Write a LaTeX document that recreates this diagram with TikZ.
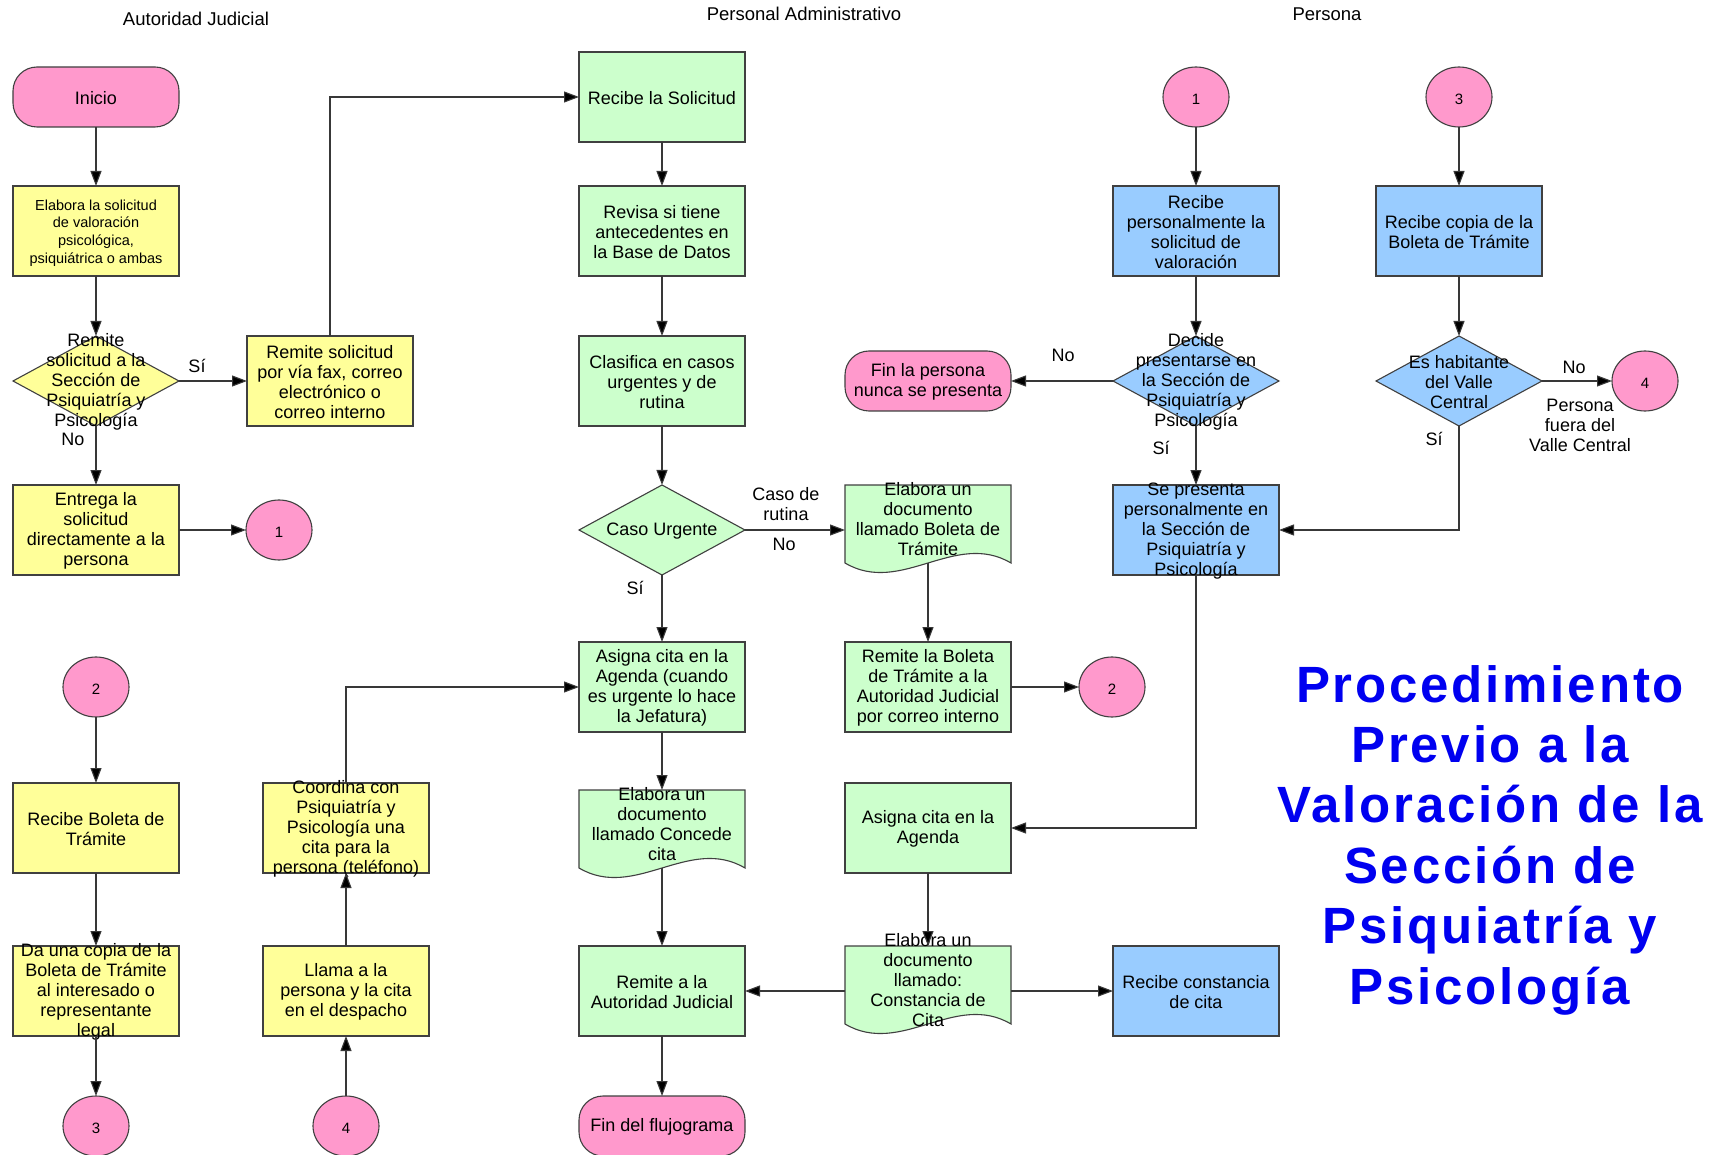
\documentclass[tikz,border=0pt]{standalone}
\usepackage{fontspec}
\setmainfont{Liberation Sans}
\usetikzlibrary{shapes.geometric,arrows.meta,calc}
\definecolor{cpink}{HTML}{FF99CC}
\definecolor{cyel}{HTML}{FFFF99}
\definecolor{cgreen}{HTML}{CCFFCC}
\definecolor{cblue}{HTML}{99CCFF}
\definecolor{edgec}{HTML}{404040}
\definecolor{linec}{HTML}{383838}
\definecolor{titleblue}{HTML}{0000F0}
\newcommand\tx[2][0pt]{\raisebox{\dimexpr #1-5.5pt\relax}[0pt][0pt]{\makebox[0pt]{\parbox[c]{240pt}{\centering #2}}}}
\newcommand\DocShape[3]{\path[draw=edgec,line width=1.1pt,fill=#3] ($(#1,#2)+(-83,-45)$) -- ($(#1,#2)+(83,-45)$) -- ($(#1,#2)+(83,33)$) .. controls ($(#1,#2)+(27,0)$) and ($(#1,#2)+(-27,66)$) .. ($(#1,#2)+(-83,33)$) -- cycle;}
\tikzset{
  every node/.style={inner sep=0pt,outer sep=0pt},
  shp/.style={draw=edgec,line width=1.1pt,font=\fontsize{18}{20}\selectfont},
  procbox/.style={shp,rectangle,minimum width=166pt,minimum height=90pt},
  ybox/.style={procbox,fill=cyel},
  gbox/.style={procbox,fill=cgreen},
  bbox/.style={procbox,fill=cblue},
  decis/.style={shp,diamond,aspect=1.84,minimum width=166pt,minimum height=90pt},
  term/.style={shp,rectangle,rounded corners=24pt,minimum width=166pt,minimum height=60pt,fill=cpink},
  circ/.style={shp,ellipse,minimum width=66pt,minimum height=60pt,fill=cpink,font=\fontsize{15}{17}\selectfont},
  docn/.style={rectangle,minimum width=166pt,minimum height=90pt,font=\fontsize{18}{20}\selectfont},
  conn/.style={draw=linec,line width=1.1pt,-{Triangle[length=15pt,width=11pt,fill=black]}},
  lab/.style={font=\fontsize{18}{20}\selectfont,align=center},
  hdr/.style={font=\fontsize{18.5}{20}\selectfont},
}
\begin{document}
\begin{tikzpicture}[x=1pt,y=-1pt]
\fill[white] (0,0) rectangle (1711,1155);
\useasboundingbox (0,0) rectangle (1711,1155);

% headers
\node[hdr] (h1) at (196,19) {Autoridad Judicial};
\node[hdr] (h2) at (804,14) {Personal Administrativo};
\node[hdr] (h3) at (1327,14) {Persona};

% Column A
\node[term] (ini) at (96,97) {\tx{Inicio}};
\node[ybox,font=\fontsize{14.5}{17.7}\selectfont] (elab) at (96,231) {\tx{Elabora la solicitud\\de valoración\\psicológica,\\psiquiátrica o ambas}};
\node[decis,fill=cyel] (d1) at (96,381) {\tx{Remite\\solicitud a la\\Sección de\\Psiquiatría y\\Psicología}};
\node[ybox] (ent) at (96,530) {\tx{Entrega la\\solicitud\\directamente a la\\persona}};
\node[circ] (c2a) at (96,687) {\tx{2}};
\node[ybox] (rbol) at (96,828) {\tx{Recibe Boleta de\\Trámite}};
\node[ybox] (dcop) at (96,991) {\tx{Da una copia de la\\Boleta de Trámite\\al interesado o\\representante\\legal}};
\node[circ] (c3a) at (96,1126) {\tx{3}};

% Column B
\node[ybox] (rsol) at (330,381) {\tx{Remite solicitud\\por vía fax, correo\\electrónico o\\correo interno}};
\node[circ] (c1a) at (279,530) {\tx{1}};
\node[ybox] (coord) at (346,828) {\tx{Coordina con\\Psiquiatría y\\Psicología una\\cita para la\\persona (teléfono)}};
\node[ybox] (llama) at (346,991) {\tx{Llama a la\\persona y la cita\\en el despacho}};
\node[circ] (c4a) at (346,1126) {\tx{4}};

% Column C
\node[gbox] (rls) at (662,97) {\tx{Recibe la Solicitud}};
\node[gbox] (rev) at (662,231) {\tx{Revisa si tiene\\antecedentes en\\la Base de Datos}};
\node[gbox] (clas) at (662,381) {\tx{Clasifica en casos\\urgentes y de\\rutina}};
\node[decis,fill=cgreen] (durg) at (662,530) {\tx{Caso Urgente}};
\node[gbox] (asg) at (662,687) {\tx{Asigna cita en la\\Agenda (cuando\\es urgente lo hace\\la Jefatura)}};
\DocShape{662}{835}{cgreen}
\node[docn] (docC) at (662,835) {\tx[12pt]{Elabora un\\documento\\llamado Concede\\cita}};
\node[gbox] (remAJ) at (662,991) {\tx{Remite a la\\Autoridad Judicial}};
\node[term] (fin) at (662,1126) {\tx{Fin del flujograma}};

% Column D
\node[term] (finp) at (928,381) {\tx{Fin la persona\\nunca se presenta}};
\DocShape{928}{530}{cgreen}
\node[docn] (docB) at (928,530) {\tx[12pt]{Elabora un\\documento\\llamado Boleta de\\Trámite}};
\node[gbox] (rbol2) at (928,687) {\tx{Remite la Boleta\\de Trámite a la\\Autoridad Judicial\\por correo interno}};
\node[circ] (c2b) at (1112,687) {\tx{2}};
\node[gbox] (asga) at (928,828) {\tx{Asigna cita en la\\Agenda}};
\DocShape{928}{991}{cgreen}
\node[docn] (docK) at (928,991) {\tx[12pt]{Elabora un\\documento\\llamado:\\Constancia de\\Cita}};

% Column E
\node[circ] (c1b) at (1196,97) {\tx{1}};
\node[bbox] (rper) at (1196,231) {\tx{Recibe\\personalmente la\\solicitud de\\valoración}};
\node[decis,fill=cblue] (ddec) at (1196,381) {\tx{Decide\\presentarse en\\la Sección de\\Psiquiatría y\\Psicología}};
\node[bbox] (sep) at (1196,530) {\tx{Se presenta\\personalmente en\\la Sección de\\Psiquiatría y\\Psicología}};
\node[bbox] (rcon) at (1196,991) {\tx{Recibe constancia\\de cita}};

% Column F
\node[circ] (c3b) at (1459,97) {\tx{3}};
\node[bbox] (rcop) at (1459,231) {\tx{Recibe copia de la\\Boleta de Trámite}};
\node[decis,fill=cblue] (dhab) at (1459,381) {\tx{Es habitante\\del Valle\\Central}};
\node[circ] (c4b) at (1645,381) {\tx{4}};

% Title
\node[text=titleblue,align=center,font=\fontsize{51}{60.4}\selectfont\bfseries\addfontfeature{LetterSpace=5.5}] (title) at (1490,840) {Procedimiento\\Previo a la\\Valoración de la\\Sección de\\Psiquiatría y\\Psicología};

% connectors
\draw[conn] (ini) -- (elab);
\draw[conn] (elab) -- (d1);
\draw[conn] (d1) -- (rsol);
\draw[conn] (d1) -- (ent);
\draw[conn] (ent) -- (c1a);
\draw[conn] (rsol.north) |- (rls.west);
\draw[conn] (rls) -- (rev);
\draw[conn] (rev) -- (clas);
\draw[conn] (clas) -- (durg);
\draw[conn] (durg) -- (docB.west);
\draw[conn] (durg) -- (asg);
\draw[conn] ([yshift=12pt]docB.south) -- (rbol2);
\draw[conn] (rbol2) -- (c2b);
\draw[conn] (c2a) -- (rbol);
\draw[conn] (rbol) -- (dcop);
\draw[conn] (dcop) -- (c3a);
\draw[conn] (c4a) -- (llama);
\draw[conn] (llama) -- (coord);
\draw[conn] (coord.north) |- (asg.west);
\draw[conn] (asg) -- (docC.north);
\draw[conn] ([yshift=12pt]docC.south) -- (remAJ);
\draw[conn] (remAJ) -- (fin);
\draw[conn] (c1b) -- (rper);
\draw[conn] (rper) -- (ddec);
\draw[conn] (ddec) -- (finp);
\draw[conn] (ddec) -- (sep);
\draw[conn] (c3b) -- (rcop);
\draw[conn] (rcop) -- (dhab);
\draw[conn] (dhab) -- (c4b);
\draw[conn] (dhab.south) |- (sep.east);
\draw[conn] (sep.south) |- (asga.east);
\draw[conn] (asga) -- (docK.north);
\draw[conn] (docK.west) -- (remAJ);
\draw[conn] (docK.east) -- (rcon);

% connector labels
\node[lab] (l1) at (197,366) {Sí};
\node[lab] (l2) at (73,439) {No};
\node[lab] (l3) at (786,504) {Caso de\\rutina};
\node[lab] (l4) at (784,544) {No};
\node[lab] (l5) at (635,588) {Sí};
\node[lab] (l6) at (1063,355) {No};
\node[lab] (l7) at (1161,448) {Sí};
\node[lab] (l8) at (1574,367) {No};
\node[lab] (l9) at (1434,439) {Sí};
\node[lab] (l10) at (1580,425) {Persona\\fuera del\\Valle Central};
\end{tikzpicture}
\end{document}
